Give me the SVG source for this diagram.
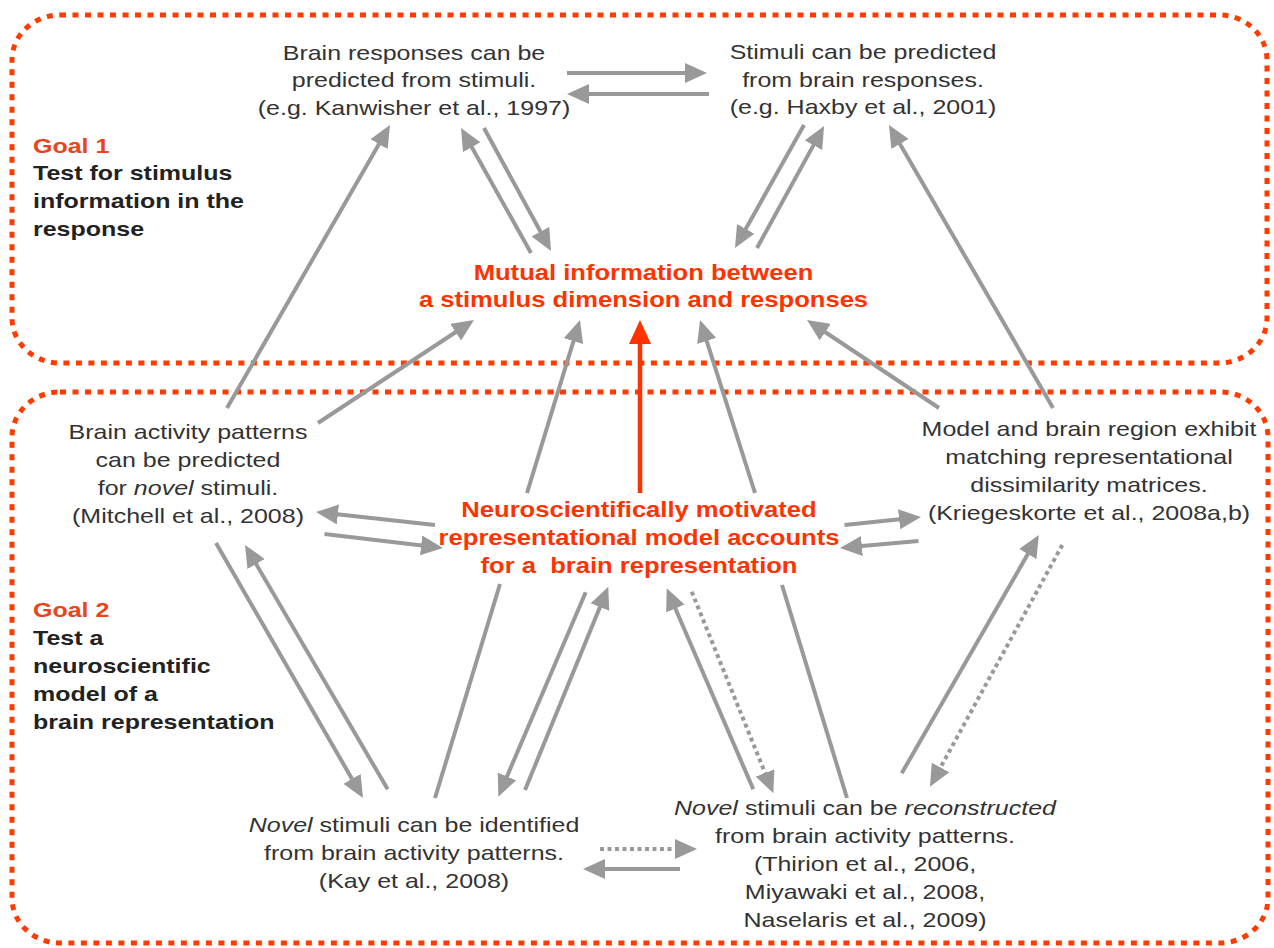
<svg xmlns="http://www.w3.org/2000/svg" width="1274" height="948" viewBox="0 0 1274 948">
<style>
  .frame { fill: none; stroke: #ff3b00; stroke-width: 5; stroke-dasharray: 6 6.5; }
  .t { font-family: 'Liberation Sans', Arial, Helvetica, sans-serif; font-size: 21px; fill: #333; text-anchor: middle; }
  .g { font-family: 'Liberation Sans', Arial, Helvetica, sans-serif; font-size: 21px; font-weight: bold; fill: #222; }
  .gl { fill: #ec4419; }
  .o { font-family: 'Liberation Sans', Arial, Helvetica, sans-serif; font-size: 21.5px; font-weight: bold; fill: #ff3300; text-anchor: middle; }
  .i { font-style: italic; }
  .c { stroke: #999; stroke-width: 4; fill: none; marker-end: url(#ah); }
  .d { stroke: #999; stroke-width: 4; fill: none; stroke-dasharray: 4 3.5; marker-end: url(#ah); }
  .p { stroke: #999; stroke-width: 4; fill: none; }
  .r { stroke: #ff3300; stroke-width: 4.5; fill: none; marker-end: url(#ahr); }
</style>
<defs>
  <marker id="ah" viewBox="0 0 22 20" refX="3" refY="10" markerWidth="22" markerHeight="20" markerUnits="userSpaceOnUse" orient="auto">
    <path d="M0,0 L22,10 L0,20 z" fill="#999"/>
  </marker>
  <marker id="ahr" viewBox="0 0 24 22" refX="3" refY="11" markerWidth="24" markerHeight="22" markerUnits="userSpaceOnUse" orient="auto">
    <path d="M0,0 L24,11 L0,22 z" fill="#ff3300"/>
  </marker>
</defs>
<rect width="1274" height="948" fill="#fff"/>

<g id="goal1-frame"><rect class="frame" x="12" y="15" width="1255" height="348" rx="48" ry="45"/></g>
<g id="goal2-frame"><rect class="frame" x="12" y="392" width="1256" height="551" rx="48" ry="45"/></g>

<g id="connectors">
  <line class="c" x1="567" y1="73" x2="688" y2="73"/>
  <line class="c" x1="709" y1="94" x2="586" y2="94"/>
  <line class="c" x1="531" y1="253" x2="470.3" y2="144.6"/>
  <line class="c" x1="484" y1="128" x2="541.9" y2="234.3"/>
  <line class="c" x1="804" y1="125" x2="744.3" y2="231.4"/>
  <line class="c" x1="757" y1="248" x2="814.9" y2="142.6"/>
  <line class="c" x1="1053" y1="408" x2="898.5" y2="141.4"/>
  <line class="c" x1="939" y1="408" x2="822.8" y2="330.5"/>
  <line class="c" x1="527" y1="493" x2="574.4" y2="338.2"/>
  <line class="r" x1="640" y1="493" x2="640" y2="341"/>
  <line class="c" x1="755" y1="493" x2="705.8" y2="338.1"/>
  <line class="c" x1="227" y1="408" x2="380.5" y2="141.5"/>
  <line class="c" x1="318" y1="423" x2="458.1" y2="330.5"/>
  <line class="c" x1="435" y1="525" x2="334.9" y2="514.1"/>
  <line class="c" x1="324.5" y1="534" x2="424.1" y2="545.8"/>
  <line class="c" x1="844.5" y1="525" x2="902.1" y2="519"/>
  <line class="c" x1="918.5" y1="541" x2="858.9" y2="546.3"/>
  <line class="c" x1="216" y1="543" x2="353.5" y2="781.5"/>
  <line class="c" x1="387.7" y1="789.3" x2="254.6" y2="561.4"/>
  <line class="p" x1="435" y1="798" x2="500" y2="584"/>
  <line class="c" x1="585.7" y1="592.3" x2="505.8" y2="779.2"/>
  <line class="c" x1="525" y1="790" x2="601.1" y2="604.3"/>
  <line class="c" x1="753.3" y1="789.3" x2="674.2" y2="605.7"/>
  <line class="d" x1="691.7" y1="591.7" x2="766.2" y2="775.7"/>
  <line class="p" x1="782" y1="585" x2="847" y2="798"/>
  <line class="c" x1="901.7" y1="773.3" x2="1029.3" y2="551.5"/>
  <line class="d" x1="1062.3" y1="545" x2="939.1" y2="770"/>
  <line class="d" x1="600" y1="849" x2="678" y2="849"/>
  <line class="c" x1="680" y1="869" x2="602" y2="869"/>
</g>

<g id="node-kanwisher" transform="translate(414 0) scale(1.19 1)">
  <text class="t"><tspan x="0" y="60">Brain responses can be</tspan><tspan x="0" y="87.5">predicted from stimuli.</tspan><tspan x="0" y="115">(e.g. Kanwisher et al., 1997)</tspan></text>
</g>
<g id="node-haxby" transform="translate(863 0) scale(1.19 1)">
  <text class="t"><tspan x="0" y="59.5">Stimuli can be predicted</tspan><tspan x="0" y="87">from brain responses.</tspan><tspan x="0" y="114.5">(e.g. Haxby et al., 2001)</tspan></text>
</g>
<g id="label-goal1" transform="translate(33 0) scale(1.19 1)">
  <text class="g"><tspan class="gl" x="0" y="153">Goal 1</tspan><tspan x="0" y="180.5">Test for stimulus</tspan><tspan x="0" y="208.5">information in the</tspan><tspan x="0" y="236">response</tspan></text>
</g>
<g id="node-mutual" transform="translate(643.5 0) scale(1.19 1)">
  <text class="o"><tspan x="0" y="280">Mutual information between</tspan><tspan x="0" y="307">a stimulus dimension and responses</tspan></text>
</g>
<g id="node-mitchell" transform="translate(188 0) scale(1.19 1)">
  <text class="t"><tspan x="0" y="439">Brain activity patterns</tspan><tspan x="0" y="467">can be predicted</tspan><tspan x="0" y="495">for <tspan class="i">novel</tspan> stimuli.</tspan><tspan x="0" y="523">(Mitchell et al., 2008)</tspan></text>
</g>
<g id="node-model" transform="translate(639 0) scale(1.19 1)">
  <text class="o" xml:space="preserve"><tspan x="0" y="517">Neuroscientifically motivated</tspan><tspan x="0" y="545">representational model accounts</tspan><tspan x="0" y="573">for a  brain representation</tspan></text>
</g>
<g id="node-rdm" transform="translate(1089 0) scale(1.19 1)">
  <text class="t"><tspan x="0" y="436">Model and brain region exhibit</tspan><tspan x="0" y="464">matching representational</tspan><tspan x="0" y="492">dissimilarity matrices.</tspan><tspan x="0" y="520">(Kriegeskorte et al., 2008a,b)</tspan></text>
</g>
<g id="label-goal2" transform="translate(33 0) scale(1.19 1)">
  <text class="g"><tspan class="gl" x="0" y="617">Goal 2</tspan><tspan x="0" y="645">Test a</tspan><tspan x="0" y="673">neuroscientific</tspan><tspan x="0" y="701">model of a</tspan><tspan x="0" y="729">brain representation</tspan></text>
</g>
<g id="node-kay" transform="translate(414 0) scale(1.19 1)">
  <text class="t"><tspan x="0" y="832"><tspan class="i">Novel</tspan> stimuli can be identified</tspan><tspan x="0" y="860">from brain activity patterns.</tspan><tspan x="0" y="888">(Kay et al., 2008)</tspan></text>
</g>
<g id="node-reconstruct" transform="translate(865 0) scale(1.19 1)">
  <text class="t"><tspan x="0" y="815"><tspan class="i">Novel</tspan> stimuli can be <tspan class="i">reconstructed</tspan></tspan><tspan x="0" y="843">from brain activity patterns.</tspan><tspan x="0" y="871">(Thirion et al., 2006,</tspan><tspan x="0" y="899">Miyawaki et al., 2008,</tspan><tspan x="0" y="927">Naselaris et al., 2009)</tspan></text>
</g>
</svg>
